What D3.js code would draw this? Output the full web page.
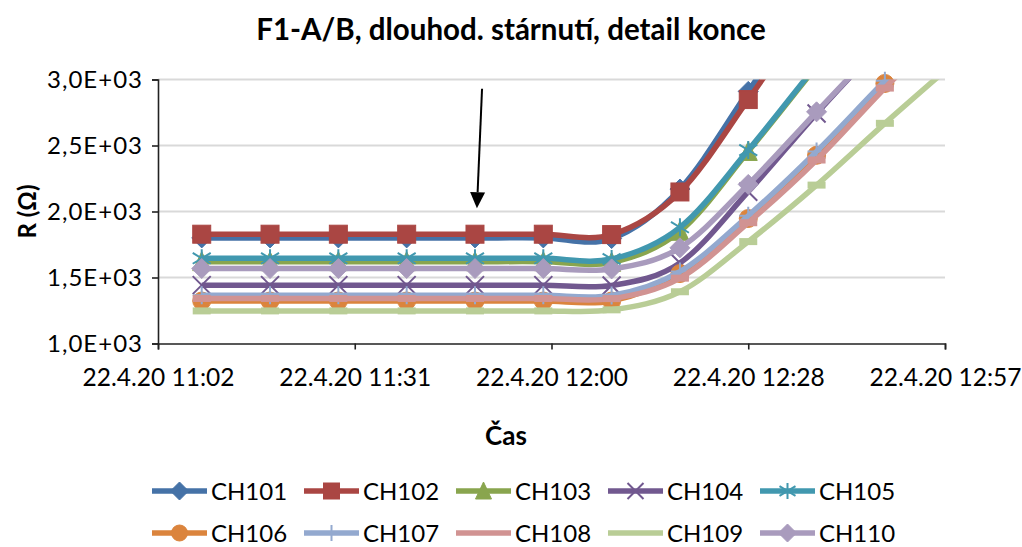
<!DOCTYPE html>
<html>
<head>
<meta charset="utf-8">
<script src="https://cdn.jsdelivr.net/npm/d3@7"></script>
<style>
  html, body { margin: 0; padding: 0; background: #fff; }
  svg { display: block; }
  text { font-family: Lato, "Open Sans", sans-serif; fill: #000; }
</style>
</head>
<body>
<svg id="chart" width="1022" height="547"></svg>
<script>
// Measurement times (every 10 minutes)
const times = [
  "2020-04-22 11:08:48", "2020-04-22 11:18:48", "2020-04-22 11:28:48",
  "2020-04-22 11:38:48", "2020-04-22 11:48:48", "2020-04-22 11:58:48",
  "2020-04-22 12:08:48", "2020-04-22 12:18:48", "2020-04-22 12:28:48",
  "2020-04-22 12:38:48", "2020-04-22 12:48:48", "2020-04-22 12:58:48"
];

// Resistance per channel (Ω)
const ch101 = [1800, 1800, 1800, 1800, 1800, 1800, 1795, 2170, 2910, 3680, 4450, 5200];
const ch102 = [1828, 1828, 1828, 1828, 1828, 1828, 1825, 2148, 2848, 3600, 4350, 5100];
const ch103 = [1620, 1620, 1620, 1620, 1620, 1620, 1615, 1850, 2455, 3100, 3740, 4380];
const ch104 = [1442, 1442, 1442, 1442, 1442, 1442, 1440, 1610, 2150, 2742, 3300, 3850];
const ch105 = [1645, 1645, 1645, 1645, 1645, 1645, 1640, 1880, 2465, 3110, 3750, 4390];
const ch106 = [1322, 1322, 1322, 1322, 1322, 1322, 1322, 1530, 1947, 2426, 2970, 3480];
const ch107 = [1366, 1366, 1366, 1366, 1366, 1366, 1364, 1545, 1968, 2455, 2990, 3500];
const ch108 = [1341, 1341, 1341, 1341, 1341, 1341, 1340, 1495, 1915, 2390, 2935, 3450];
const ch109 = [1247, 1247, 1247, 1247, 1247, 1247, 1255, 1392, 1772, 2200, 2668, 3120];
const ch110 = [1568, 1568, 1568, 1568, 1568, 1568, 1565, 1725, 2205, 2755, 3300, 3850];

const seriesNames   = ["CH101", "CH102", "CH103", "CH104", "CH105", "CH106", "CH107", "CH108", "CH109", "CH110"];
const seriesValues  = [ch101, ch102, ch103, ch104, ch105, ch106, ch107, ch108, ch109, ch110];
const seriesColors  = ["#4572A7", "#AA4643", "#89A54E", "#71588F", "#4198AF", "#DB843D", "#93A9CF", "#D19392", "#B9CD96", "#A99BBD"];
const seriesMarkers = ["diamond", "square", "triangle", "x", "star", "circle", "plus", "dash", "dash", "diamond"];

// Axis ticks
const yTicks = [1000, 1500, 2000, 2500, 3000];
const xTicks = ["2020-04-22 11:02:24", "2020-04-22 11:31:12", "2020-04-22 12:00:00", "2020-04-22 12:28:48", "2020-04-22 12:57:36"];

// Annotation arrow (time, value) from -> to
const arrowFrom = ["2020-04-22 11:49:50", 2930];
const arrowTo   = ["2020-04-22 11:49:05", 2025];

const parse = d3.timeParse("%Y-%m-%d %H:%M:%S");
const fmtTime = d3.timeFormat("%-d.%-m.%y %H:%M");
const fmtY = v => (v / 1000).toFixed(1).replace(".", ",") + "E+03";

const svg = d3.select("#chart");
const plot = { left: 158, right: 945, top: 79.5, bottom: 343.5 };

const xTickDates = xTicks.map(parse);
const x = d3.scaleTime()
  .domain([xTickDates[0], xTickDates[xTickDates.length - 1]])
  .range([plot.left, plot.right]);
const y = d3.scaleLinear()
  .domain([1000, 3000])
  .range([plot.bottom, plot.top]);

const dates = times.map(parse);

// Title
svg.append("text")
  .attr("x", 511).attr("y", 40)
  .attr("text-anchor", "middle")
  .style("font-size", "29.5px").style("font-weight", "bold")
  .text("F1-A/B, dlouhod. stárnutí, detail konce");

// Gridlines
svg.append("g").selectAll("line").data(yTicks.slice(1)).join("line")
  .attr("x1", plot.left).attr("x2", plot.right)
  .attr("y1", d => y(d)).attr("y2", d => y(d))
  .attr("stroke", "#d9d9d9").attr("stroke-width", 2);

// Y axis
const yAxis = svg.append("g")
  .attr("transform", `translate(${plot.left},0)`)
  .call(d3.axisLeft(y).tickValues(yTicks).tickFormat(fmtY).tickSize(6).tickPadding(9));
yAxis.select(".domain").attr("stroke", "#222").attr("stroke-width", 1.6);
yAxis.selectAll(".tick line").attr("stroke", "#222").attr("stroke-width", 1.6);
yAxis.selectAll(".tick text")
  .style("font-size", "24px").style("letter-spacing", "1px")
  .attr("font-family", null).attr("fill", "#000");

// X axis
const xAxis = svg.append("g")
  .attr("transform", `translate(0,${plot.bottom})`)
  .call(d3.axisBottom(x).tickValues(xTickDates).tickFormat(fmtTime).tickSize(6).tickPadding(19));
xAxis.select(".domain").attr("stroke", "#222").attr("stroke-width", 1.6);
xAxis.selectAll(".tick line").attr("stroke", "#222").attr("stroke-width", 1.6);
xAxis.selectAll(".tick text").style("font-size", "24.5px").attr("font-family", null).attr("fill", "#000");

// Axis titles
svg.append("text")
  .attr("transform", `translate(36,${(plot.top + plot.bottom) / 2}) rotate(-90)`)
  .attr("text-anchor", "middle")
  .style("font-size", "24px").style("font-weight", "bold")
  .text("R (Ω)");
svg.append("text")
  .attr("x", 506).attr("y", 445)
  .attr("text-anchor", "middle")
  .style("font-size", "26px").style("font-weight", "bold")
  .text("Čas");

// Clip for lines
svg.append("defs").append("clipPath").attr("id", "plotClip")
  .append("rect")
  .attr("x", plot.left).attr("y", plot.top)
  .attr("width", plot.right - plot.left).attr("height", plot.bottom - plot.top);

const line = d3.line()
  .x((d, i) => x(dates[i]))
  .y(d => y(d))
  .curve(d3.curveCardinal.tension(0));

function drawMarker(g, type, color, cx, cy, s) {
  const h = s / 2;
  switch (type) {
    case "diamond":
      g.append("path").attr("d", `M${cx},${cy - h - 1}L${cx + h + 1},${cy}L${cx},${cy + h + 1}L${cx - h - 1},${cy}Z`)
        .attr("fill", color).attr("stroke", color).attr("stroke-width", 1);
      break;
    case "square":
      g.append("rect").attr("x", cx - h).attr("y", cy - h).attr("width", s).attr("height", s)
        .attr("fill", color).attr("stroke", color).attr("stroke-width", 1);
      break;
    case "triangle":
      g.append("path").attr("d", `M${cx},${cy - h - 1}L${cx + h},${cy + h}L${cx - h},${cy + h}Z`)
        .attr("fill", color).attr("stroke", color).attr("stroke-width", 1);
      break;
    case "circle":
      g.append("circle").attr("cx", cx).attr("cy", cy).attr("r", h)
        .attr("fill", color).attr("stroke", color).attr("stroke-width", 1);
      break;
    case "x":
      g.append("path").attr("d", `M${cx - h},${cy - h}L${cx + h},${cy + h}M${cx + h},${cy - h}L${cx - h},${cy + h}`)
        .attr("stroke", color).attr("stroke-width", 2).attr("fill", "none");
      break;
    case "star":
      g.append("path").attr("d", `M${cx - h},${cy - h * 0.6}L${cx + h},${cy + h * 0.6}M${cx + h},${cy - h * 0.6}L${cx - h},${cy + h * 0.6}M${cx},${cy - h}L${cx},${cy + h}`)
        .attr("stroke", color).attr("stroke-width", 2).attr("fill", "none");
      break;
    case "plus":
      g.append("path").attr("d", `M${cx - h},${cy}L${cx + h},${cy}M${cx},${cy - h}L${cx},${cy + h}`)
        .attr("stroke", color).attr("stroke-width", 2).attr("fill", "none");
      break;
    case "dash":
      g.append("rect").attr("x", cx - h).attr("y", cy - 3.5).attr("width", s).attr("height", 7)
        .attr("fill", color);
      break;
  }
}

// Series: smoothed line, then markers
const series = svg.append("g");
seriesValues.forEach((vals, k) => {
  const g = series.append("g");
  g.append("path")
    .attr("d", line(vals))
    .attr("clip-path", "url(#plotClip)")
    .attr("fill", "none")
    .attr("stroke", seriesColors[k])
    .attr("stroke-width", 5.5)
    .attr("stroke-linejoin", "round");
  vals.forEach((v, i) => {
    if (v > 3000 || dates[i] > x.domain()[1]) return;
    drawMarker(g, seriesMarkers[k], seriesColors[k], x(dates[i]), y(v), 18);
  });
});

// Annotation arrow
const ax1 = x(parse(arrowFrom[0])), ay1 = y(arrowFrom[1]);
const ax2 = x(parse(arrowTo[0])), ay2 = y(arrowTo[1]);
const ang = Math.atan2(ay2 - ay1, ax2 - ax1);
const headLen = 16, headHalf = 7.5;
const bx = ax2 - headLen * Math.cos(ang), by = ay2 - headLen * Math.sin(ang);
svg.append("line")
  .attr("x1", ax1).attr("y1", ay1).attr("x2", bx).attr("y2", by)
  .attr("stroke", "#000").attr("stroke-width", 2);
svg.append("path")
  .attr("d", `M${ax2},${ay2}L${bx + headHalf * Math.sin(ang)},${by - headHalf * Math.cos(ang)}L${bx - headHalf * Math.sin(ang)},${by + headHalf * Math.cos(ang)}Z`)
  .attr("fill", "#000");

// Legend (two rows of five)
const legend = svg.append("g");
seriesNames.forEach((name, k) => {
  const col = k % 5, row = Math.floor(k / 5);
  const lx = 152 + col * 152, ly = 491 + row * 42;
  const g = legend.append("g");
  g.append("line")
    .attr("x1", lx).attr("x2", lx + 55).attr("y1", ly).attr("y2", ly)
    .attr("stroke", seriesColors[k]).attr("stroke-width", 5.5);
  if (seriesMarkers[k] !== "dash") drawMarker(g, seriesMarkers[k], seriesColors[k], lx + 27.5, ly, 16);
  g.append("text")
    .attr("x", lx + 59).attr("y", ly)
    .attr("dy", "0.36em")
    .style("font-size", "24px")
    .text(name);
});
</script>
</body>
</html>
